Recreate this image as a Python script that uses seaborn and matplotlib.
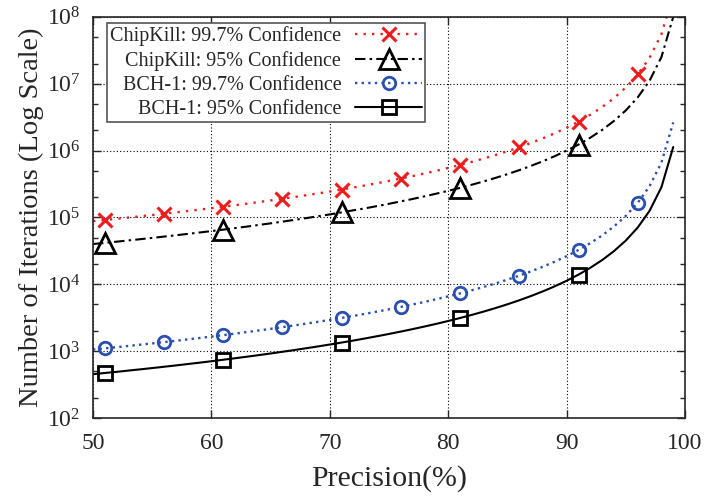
import matplotlib
matplotlib.use("Agg")
import matplotlib.pyplot as plt
import seaborn as sns
import numpy as np
import pandas as pd
from matplotlib.ticker import LogLocator, LogFormatterMathtext, MultipleLocator

sns.set_style("ticks")
plt.rcParams['font.family'] = ['Liberation Serif', 'DejaVu Serif']
plt.rcParams['mathtext.fontset'] = 'stix'

# precision (%) sampled at every integer
precision = list(range(50, 100))

chipkill_997 = [88000, 91600, 95500, 99600, 104000, 108600, 113600, 119000, 124700, 130900,
                137500, 144600, 152400, 160700, 169800, 179600, 190300, 202000, 214800, 228900,
                244400, 261600, 280600, 301800, 325400, 352000, 382000, 415900, 454500, 498900,
                550000, 609400, 679000, 761200, 859400, 977800, 1122000, 1302000, 1528000, 1818000,
                2200000, 2716000, 3438000, 4490000, 6111000, 8800000, 13750000, 24440000, 55000000, 220000000]

chipkill_95 = [40000, 41600, 43400, 45300, 47300, 49400, 51700, 54100, 56700, 59500,
               62500, 65700, 69300, 73000, 77200, 81600, 86500, 91800, 97700, 104000,
               111000, 119000, 128000, 137000, 148000, 160000, 174000, 189000, 207000, 227000,
               250000, 277000, 309000, 346000, 391000, 444000, 510000, 592000, 694000, 826000,
               1000000, 1230000, 1560000, 2040000, 2780000, 4000000, 6250000, 11100000, 25000000, 100000000]

bch1_997 = [1056, 1100, 1146, 1195, 1248, 1304, 1364, 1428, 1497, 1571,
            1650, 1736, 1828, 1928, 2037, 2155, 2284, 2424, 2578, 2747,
            2933, 3139, 3367, 3621, 3905, 4224, 4583, 4991, 5455, 5986,
            6600, 7313, 8148, 9135, 10310, 11730, 13470, 15620, 18330, 21820,
            26400, 32590, 41250, 53880, 73330, 105600, 165000, 293300, 660000, 2640000]

bch1_95 = [452, 471, 490, 512, 534, 558, 584, 611, 641, 672,
           706, 743, 783, 825, 872, 922, 978, 1038, 1104, 1176,
           1256, 1344, 1441, 1550, 1672, 1808, 1962, 2136, 2335, 2562,
           2825, 3130, 3488, 3910, 4414, 5022, 5765, 6686, 7847, 9339,
           11300, 13950, 17660, 23060, 31390, 45200, 70630, 125600, 282500, 1130000]

labels = ["ChipKill: 99.7% Confidence", "ChipKill: 95% Confidence",
          "BCH-1: 99.7% Confidence", "BCH-1: 95% Confidence"]

df = pd.DataFrame({"precision": precision,
                   labels[0]: chipkill_997, labels[1]: chipkill_95,
                   labels[2]: bch1_997, labels[3]: bch1_95})

fig, ax = plt.subplots(figsize=(7.07, 4.97), dpi=100)
fig.subplots_adjust(left=0.1315, right=0.969, top=0.966, bottom=0.159)

styles = [
    dict(color="#ee1c1c", linestyle=(0, (1, 2.6)), marker="x", markersize=9.5, markeredgewidth=2.2,
         markevery=slice(1, None, 5), linewidth=1.7),
    dict(color="black", linestyle=(0, (5, 2, 1.2, 2)), marker="^", markersize=15, markeredgewidth=2,
         markevery=slice(1, None, 10), linewidth=1.5),
    dict(color="#2a4fb0", linestyle=(0, (1, 1.8)), marker="o", markersize=9, markeredgewidth=2,
         markevery=slice(1, None, 5), linewidth=1.7),
    dict(color="black", linestyle="-", marker="s", markersize=9.5, markeredgewidth=2,
         markevery=slice(1, None, 10), linewidth=1.5),
]

for lab, st in zip(labels, styles):
    sns.lineplot(data=df, x="precision", y=lab, ax=ax, label=lab)
    ax.lines[-1].set(markerfacecolor="none", markeredgecolor=st["color"], **st)

ax.set_yscale("log")
ax.set_xlim(50, 100)
ax.set_ylim(1e2, 1e8)
ax.xaxis.set_major_locator(MultipleLocator(10))
ax.yaxis.set_major_locator(LogLocator(base=10, numticks=10))
ax.yaxis.set_major_formatter(LogFormatterMathtext())
ax.yaxis.set_minor_locator(LogLocator(base=10, subs=(2, 5), numticks=10))
ax.yaxis.set_minor_formatter(plt.NullFormatter())

ax.grid(True, which="major", color="black", linestyle=(0, (1, 2)), linewidth=0.8)
ax.tick_params(which="both", direction="in", top=True, right=True, labelsize=17, width=1)
ax.tick_params(axis="x", pad=11)
ax.tick_params(axis="y", pad=9)
ax.tick_params(which="major", length=6)
ax.tick_params(which="minor", length=3.5)
for sp in ax.spines.values():
    sp.set_linewidth(1.2)

ax.set_xlabel("Precision(%)", fontsize=21.5, labelpad=8)
ax.set_ylabel("Number of Iterations (Log Scale)", fontsize=20.5, labelpad=2)

leg = ax.legend(loc="upper left", bbox_to_anchor=(0.024, 0.985), borderaxespad=0,
                fontsize=14.5, markerfirst=False, handlelength=3.3,
                fancybox=False, framealpha=1, edgecolor="#555555",
                labelspacing=0.25, handletextpad=0.7, borderpad=0.15)
for t in leg.get_texts():
    t.set_ha("right")
leg.get_frame().set_linewidth(1.2)

fig.savefig("out.png", dpi=100)
